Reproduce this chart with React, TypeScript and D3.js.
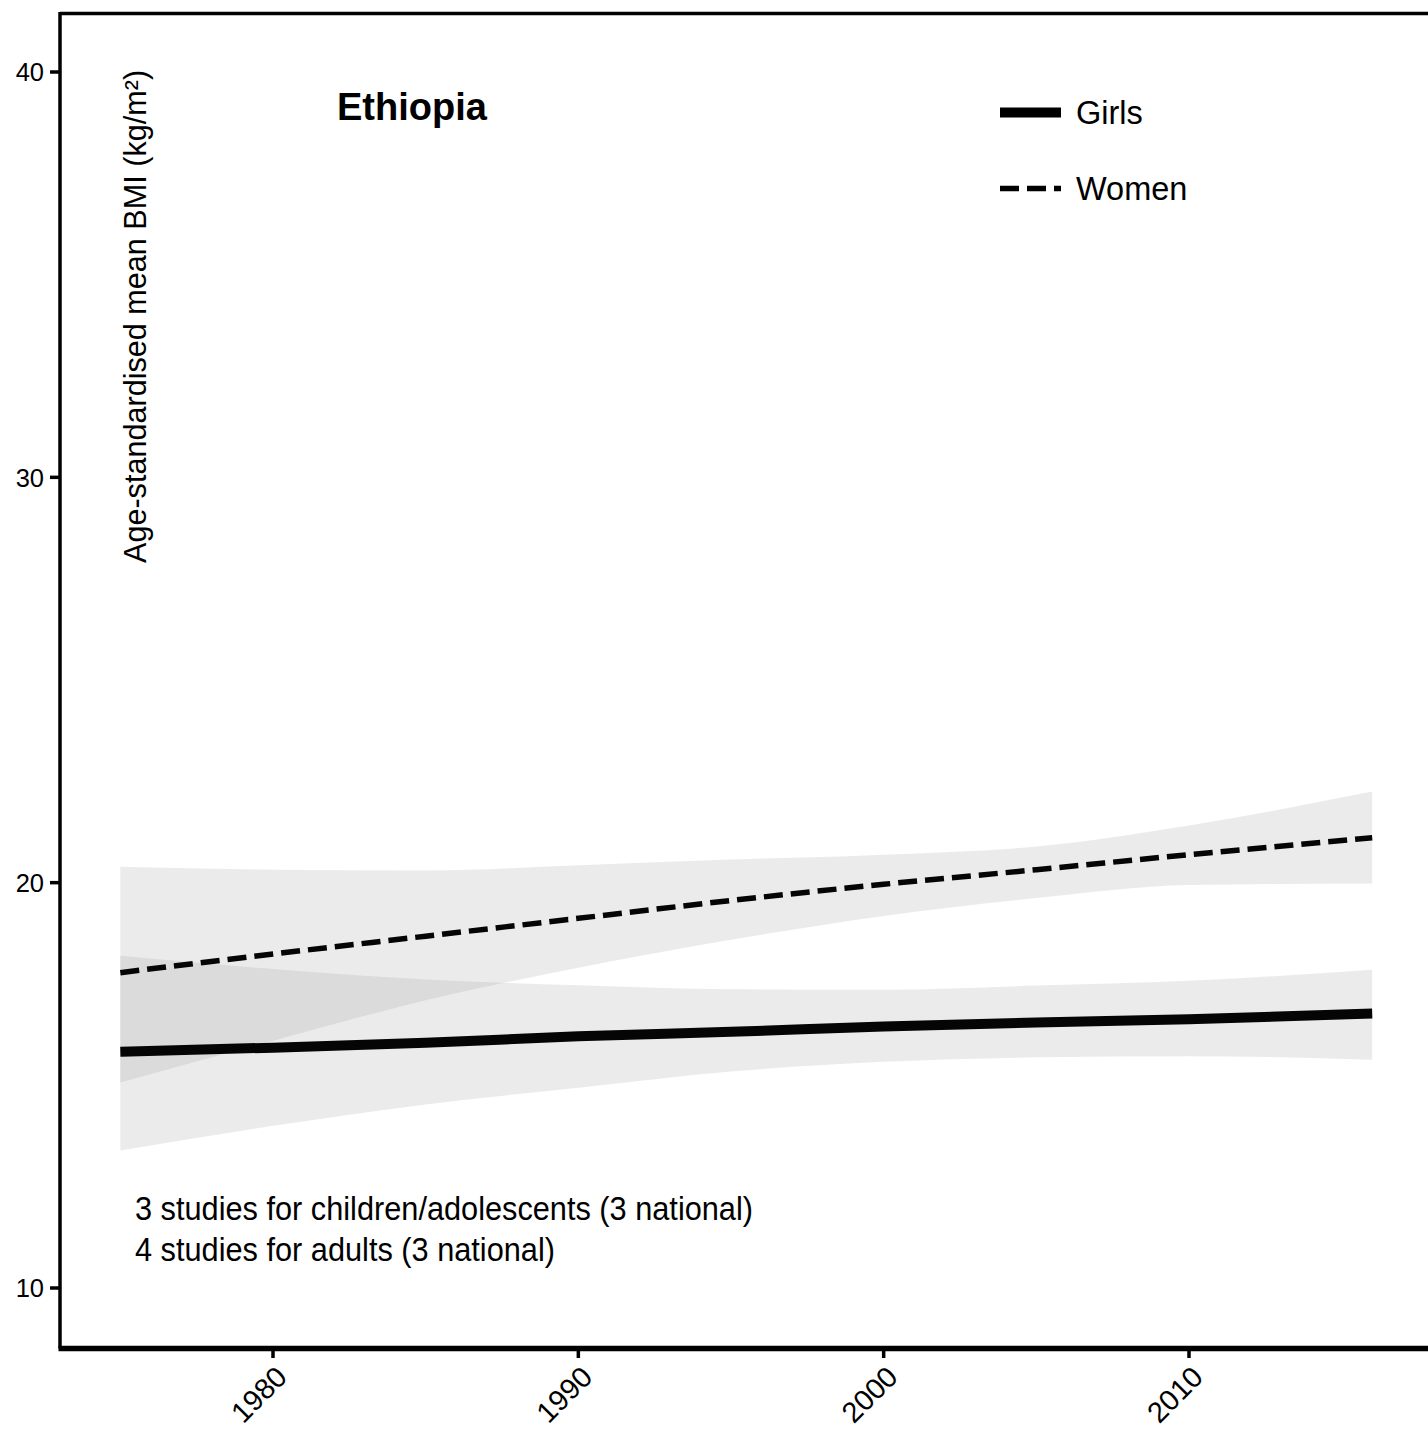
import React from "react";
import * as d3 from "d3";

const years = [1975, 1980, 1985, 1990, 1995, 2000, 2005, 2010, 2016];
const womenMean = [17.78, 18.24, 18.68, 19.12, 19.56, 19.96, 20.32, 20.69, 21.11];
const womenLower = [15.07, 16.1, 17.1, 17.9, 18.59, 19.18, 19.62, 19.94, 19.98];
const womenUpper = [20.39, 20.32, 20.3, 20.43, 20.57, 20.69, 20.89, 21.41, 22.25];
const girlsMean = [15.83, 15.93, 16.05, 16.21, 16.32, 16.45, 16.55, 16.63, 16.77];
const girlsLower = [13.39, 14.0, 14.53, 14.94, 15.34, 15.58, 15.69, 15.72, 15.63];
const girlsUpper = [18.2, 17.87, 17.61, 17.47, 17.37, 17.36, 17.46, 17.58, 17.85];

const yTicks = [10, 20, 30, 40];
const xTicks = [1980, 1990, 2000, 2010];
const title = "Ethiopia";
const yLabel = "Age-standardised mean BMI (kg/m²)";
const seriesNames = ["Girls", "Women"];
const notes = [
  "3 studies for children/adolescents (3 national)",
  "4 studies for adults (3 national)",
];

const FONT = "'Liberation Sans', Arial, Helvetica, sans-serif";

export default function App() {
  const W = 1428;
  const H = 1448;
  const x = d3.scaleLinear().domain([1980, 2010]).range([273, 1189]);
  const y = d3.scaleLinear().domain([10, 40]).range([1288, 72]);

  const pts = (vals: number[]) => years.map((yr, i) => [yr, vals[i]] as [number, number]);
  const line = d3
    .line<[number, number]>()
    .x((d) => x(d[0]))
    .y((d) => y(d[1]))
    .curve(d3.curveMonotoneX);
  const area = d3
    .area<number>()
    .x((i) => x(years[i]))
    .curve(d3.curveMonotoneX);
  const band = (lo: number[], hi: number[]) =>
    area.y0((i) => y(lo[i])).y1((i) => y(hi[i]))(years.map((_, i) => i)) || "";

  const left = 60;
  const top = 13.5;
  const bottom = 1348.5;

  return (
    <svg
      width={W}
      height={H}
      style={{ position: "absolute", left: 0, top: 0, background: "#fff" }}
      fontFamily={FONT}
    >
      <rect x={0} y={0} width={W} height={H} fill="#fff" />
      {/* ribbons */}
      <path d={band(womenLower, womenUpper)} fill="#999" fillOpacity={0.2} />
      <path d={band(girlsLower, girlsUpper)} fill="#999" fillOpacity={0.2} />
      {/* lines */}
      <path d={line(pts(girlsMean)) || ""} fill="none" stroke="#050505" strokeWidth={10} />
      <path
        d={line(pts(womenMean)) || ""}
        fill="none"
        stroke="#050505"
        strokeWidth={5.5}
        strokeDasharray="19 8"
      />
      {/* frame */}
      <line x1={left} x2={W + 10} y1={top} y2={top} stroke="#000" strokeWidth={3.5} />
      <line x1={left} x2={left} y1={top - 1.5} y2={bottom} stroke="#000" strokeWidth={3.5} />
      <line x1={left - 1.5} x2={W + 10} y1={bottom} y2={bottom} stroke="#000" strokeWidth={5.5} />
      {/* y axis */}
      {yTicks.map((t) => (
        <g key={t}>
          <line x1={50} x2={left} y1={y(t)} y2={y(t)} stroke="#000" strokeWidth={3.5} />
          <text
            x={44}
            y={y(t)}
            dy="0.36em"
            textAnchor="end"
            fontSize={25.5}
            fill="#000"
          >
            {t}
          </text>
        </g>
      ))}
      {/* x axis */}
      {xTicks.map((t) => (
        <g key={t}>
          <line x1={x(t)} x2={x(t)} y1={bottom} y2={1358} stroke="#000" strokeWidth={3.5} />
          <text
            transform={`translate(${x(t) + 1},${1364}) rotate(-45)`}
            textAnchor="end"
            dy="0.72em"
            fontSize={29}
            fill="#000"
          >
            {t}
          </text>
        </g>
      ))}
      {/* y label */}
      <text
        transform={`translate(146,563) rotate(-90)`}
        fontSize={30.6}
        fill="#000"
      >
        {yLabel}
      </text>
      {/* title */}
      <text x={337} y={120} fontSize={38} fontWeight="bold" fill="#000">
        {title}
      </text>
      {/* legend */}
      <line x1={1000} x2={1061} y1={112.5} y2={112.5} stroke="#000" strokeWidth={10} />
      <text x={1076} y={124} fontSize={32.5} fill="#000">
        {seriesNames[0]}
      </text>
      <line
        x1={1000}
        x2={1061}
        y1={188.5}
        y2={188.5}
        stroke="#000"
        strokeWidth={5.5}
        strokeDasharray="19 8"
      />
      <text x={1076} y={200} fontSize={32.5} fill="#000">
        {seriesNames[1]}
      </text>
      {/* notes */}
      {notes.map((n, i) => (
        <text
          key={i}
          x={135}
          y={1220 + i * 41}
          fontSize={33}
          textLength={i === 0 ? 618 : 420}
          lengthAdjust="spacingAndGlyphs"
          fill="#000"
        >
          {n}
        </text>
      ))}
    </svg>
  );
}
